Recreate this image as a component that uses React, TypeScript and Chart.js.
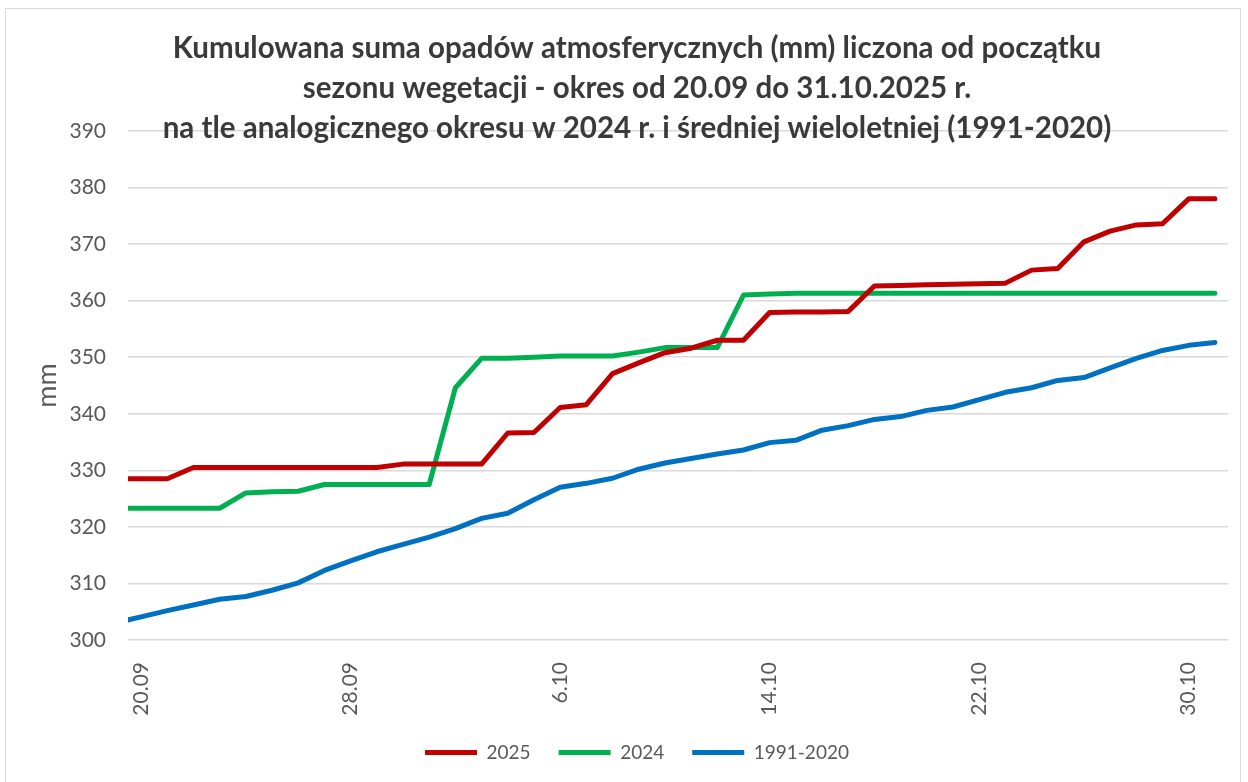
import React, { useEffect, useRef } from "react";
import { Chart, registerables } from "chart.js";

Chart.register(...registerables);

// Categories: 19.09 (clipped, before axis start) .. 31.10
const dates: string[] = [
  "19.09", "20.09", "21.09", "22.09", "23.09", "24.09", "25.09", "26.09", "27.09", "28.09", "29.09", "30.09",
  "1.10", "2.10", "3.10", "4.10", "5.10", "6.10", "7.10", "8.10", "9.10", "10.10",
  "11.10", "12.10", "13.10", "14.10", "15.10", "16.10", "17.10", "18.10", "19.10", "20.10",
  "21.10", "22.10", "23.10", "24.10", "25.10", "26.10", "27.10", "28.10", "29.10", "30.10", "31.10",
];

const axisStart = "20.09";
const shownTicks: string[] = ["20.09", "28.09", "6.10", "14.10", "22.10", "30.10"];

const series2025: number[] = [
  328.5, 328.5, 328.5, 330.5, 330.5, 330.5, 330.5, 330.5, 330.5, 330.5, 330.5, 331.1,
  331.1, 331.1, 331.1, 336.6, 336.7, 341.1, 341.6, 347.1, 349.0, 350.8,
  351.6, 353.0, 353.0, 357.9, 358.0, 358.0, 358.1, 362.6, 362.7, 362.8,
  362.9, 363.0, 363.1, 365.4, 365.7, 370.4, 372.3, 373.4, 373.6, 378.0, 378.0,
];

const series2024: number[] = [
  323.3, 323.3, 323.3, 323.3, 323.3, 326.0, 326.2, 326.3, 327.5, 327.5, 327.5, 327.5,
  327.5, 344.6, 349.8, 349.8, 350.0, 350.2, 350.2, 350.2, 350.9, 351.7,
  351.7, 351.7, 361.0, 361.2, 361.3, 361.3, 361.3, 361.3, 361.3, 361.3,
  361.3, 361.3, 361.3, 361.3, 361.3, 361.3, 361.3, 361.3, 361.3, 361.3, 361.3,
];

const seriesNorm: number[] = [
  303.0, 304.1, 305.2, 306.2, 307.2, 307.7, 308.8, 310.1, 312.3, 314.0, 315.6, 316.9,
  318.2, 319.7, 321.5, 322.4, 324.8, 327.0, 327.7, 328.6, 330.2, 331.3,
  332.1, 332.9, 333.6, 334.9, 335.3, 337.1, 337.9, 339.0, 339.5, 340.6,
  341.2, 342.5, 343.8, 344.6, 345.9, 346.4, 348.1, 349.8, 351.2, 352.1, 352.6,
];

const seriesNames: string[] = ["2025", "2024", "1991-2020"];
const seriesColors: string[] = ["#C00000", "#00B050", "#0070C0"];

const titleLines: string[] = [
  "Kumulowana suma opadów atmosferycznych (mm) liczona od początku",
  "sezonu wegetacji - okres od 20.09 do 31.10.2025 r.",
  "na tle analogicznego okresu w 2024 r. i średniej wieloletniej (1991-2020)",
];

const yTitle = "mm";
const yMin = 300;
const yMax = 390;
const yStep = 10;

const FONT = "Lato, 'Open Sans', sans-serif";
const TEXT = "#595959";

export default function App() {
  const canvasRef = useRef<HTMLCanvasElement | null>(null);

  useEffect(() => {
    const canvas = canvasRef.current;
    if (!canvas) return;
    const values = [series2025, series2024, seriesNorm];
    const chart = new Chart(canvas, {
      type: "line",
      data: {
        labels: dates,
        datasets: values.map((v, i) => ({
          label: seriesNames[i],
          data: v,
          borderColor: seriesColors[i],
          backgroundColor: seriesColors[i],
          borderWidth: 5,
          pointRadius: 0,
          pointHoverRadius: 0,
          tension: 0,
          borderCapStyle: "round" as const,
          borderJoinStyle: "round" as const,
          fill: false,
        })),
      },
      options: {
        animation: false,
        responsive: true,
        maintainAspectRatio: false,
        layout: { padding: { left: 46, right: 20, top: 0, bottom: 10 } },
        plugins: {
          title: {
            display: true,
            text: titleLines,
            color: "#3a3a3a",
            font: { family: FONT, size: 29.5, weight: "bold", lineHeight: "40px" },
            padding: { top: 28, bottom: -17 },
          },
          legend: {
            position: "bottom",
            labels: {
              usePointStyle: true,
              pointStyle: "line",
              pointStyleWidth: 52,
              padding: 28,
              color: TEXT,
              font: { family: FONT, size: 19 },
            },
          },
          tooltip: { enabled: false },
        },
        scales: {
          x: {
            type: "category",
            min: axisStart,
            offset: true,
            grid: { display: false },
            border: { display: false },
            ticks: {
              autoSkip: false,
              minRotation: 90,
              maxRotation: 90,
              padding: 14,
              color: TEXT,
              font: { family: FONT, size: 21 },
              callback: function (this: any, val: any) {
                const l = this.getLabelForValue(val);
                return shownTicks.includes(l) ? l : null;
              },
            },
            afterFit: (s: any) => {
              s.height = 75;
            },
          },
          y: {
            min: yMin,
            max: yMax,
            ticks: {
              stepSize: yStep,
              padding: 22,
              color: TEXT,
              font: { family: FONT, size: 21 },
            },
            grid: { color: "#d9d9d9", lineWidth: 1.5, drawTicks: false },
            border: { display: false },
            title: {
              display: true,
              text: yTitle,
              color: TEXT,
              font: { family: FONT, size: 27 },
              padding: { top: -15, bottom: 0 },
            },
            afterFit: (s: any) => {
              s.width = 82;
            },
          },
        },
      },
    });
    return () => chart.destroy();
  }, []);

  return (
    <div
      style={{
        position: "fixed",
        left: 0,
        top: 0,
        width: 1248,
        height: 782,
        overflow: "hidden",
        background: "#ffffff",
      }}
    >
      <div
        style={{
          position: "absolute",
          left: 5,
          top: 8,
          width: 1236,
          height: 790,
          border: "1px solid #d9d9d9",
          boxSizing: "border-box",
        }}
      />
      <div style={{ position: "absolute", left: 0, top: 0, width: 1248, height: 782 }}>
        <canvas ref={canvasRef} />
      </div>
    </div>
  );
}
